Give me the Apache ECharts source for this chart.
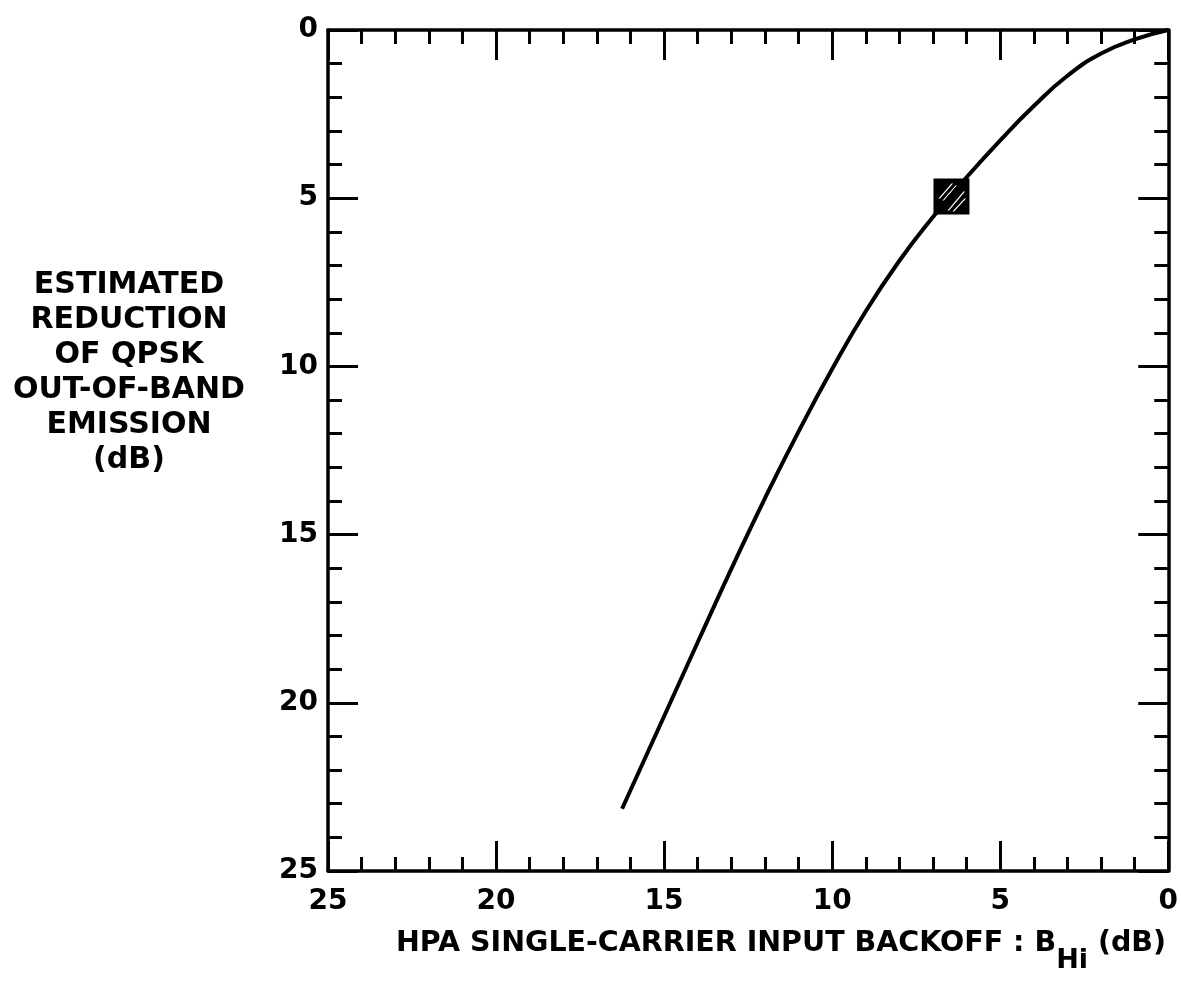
<!DOCTYPE html>
<html>
<head>
<meta charset="utf-8">
<script src="https://cdn.jsdelivr.net/npm/echarts@6/dist/echarts.min.js"></script>
<style>
html,body{margin:0;padding:0;background:#fff;}
#chart{width:1181px;height:984px;}
</style>
</head>
<body>
<div id="chart"></div>
<script>
// HPA single-carrier input backoff (dB)
const backoff = [0, 1, 2, 3, 4, 5, 6, 7, 8, 9, 10, 11, 12, 13, 14, 15, 16, 16.25];
// Estimated reduction of QPSK out-of-band emission (dB)
const reduction = [0, 0.28, 0.70, 1.36, 2.26, 3.28, 4.38, 5.56, 6.86, 8.36, 10.08, 11.94, 13.92, 16.02, 18.20, 20.40, 22.60, 23.15];
// Operating point marker
const operatingPoint = [6.45, 4.95];
const tickLabels = ['0', '5', '10', '15', '20', '25'];
const yTitleLines = ['ESTIMATED', 'REDUCTION', 'OF QPSK', 'OUT-OF-BAND', 'EMISSION', '(dB)'];
const xTitleMain = 'HPA SINGLE-CARRIER INPUT BACKOFF : B';
const xTitleSub = 'Hi';
const xTitleUnit = ' (dB)';

const FONT = 'DejaVu Sans';
const curveData = backoff.map((x, i) => [x, reduction[i]]);

// square with hatch slashes cut out (opposite winding)
const hatchSymbol = 'path://M0,0 L36,0 L36,36 L0,36 Z ' +
  'M5,20 L6.6,20 L19.6,5 L18,5 Z ' +
  'M9,22 L10.6,22 L23.6,7 L22,7 Z ' +
  'M14,32 L15.6,32 L31.6,13 L30,13 Z ' +
  'M19,33 L20.6,33 L32.6,20 L31,20 Z';

const axisCommon = {
  type: 'value', min: 0, max: 25, interval: 5, inverse: true,
  axisLine: { show: true, onZero: false, lineStyle: { color: '#000', width: 3.5 } },
  axisTick: { show: true, inside: true, length: 30, lineStyle: { color: '#000', width: 3 } },
  minorTick: { show: true, splitNumber: 5, length: 14, lineStyle: { color: '#000', width: 3 } },
  splitLine: { show: false },
  minorSplitLine: { show: false }
};
const labelStyle = { color: '#000', fontFamily: FONT, fontWeight: 'bold', fontSize: 28,
  formatter: v => tickLabels[Math.round(v / 5)] };

const chart = echarts.init(document.getElementById('chart'), null, { renderer: 'canvas' });
chart.setOption({
  backgroundColor: '#fff',
  animation: false,
  grid: { left: 328, right: 11, top: 30, bottom: 113, containLabel: false },
  xAxis: [
    Object.assign({}, axisCommon, { position: 'bottom', axisLabel: Object.assign({ margin: 17 }, labelStyle) }),
    Object.assign({}, axisCommon, { position: 'top', axisLabel: { show: false } })
  ],
  yAxis: [
    Object.assign({}, axisCommon, { position: 'left', axisLabel: Object.assign({ margin: 10, padding: [0, 0, 10, 0] }, labelStyle) }),
    Object.assign({}, axisCommon, { position: 'right', axisLabel: { show: false } })
  ],
  graphic: [
    {
      type: 'text', x: 129, y: 268,
      style: {
        text: yTitleLines.join('\n'), textAlign: 'center', textVerticalAlign: 'top',
        font: 'bold 30px "' + FONT + '"', lineHeight: 35, fill: '#000'
      }
    },
    {
      type: 'text', x: 781, y: 944,
      style: {
        text: xTitleMain + '{sub|' + xTitleSub + '}' + xTitleUnit,
        textAlign: 'center', textVerticalAlign: 'middle',
        fontFamily: FONT, fontWeight: 'bold', fontSize: 28.5, fill: '#000',
        rich: { sub: { fontFamily: FONT, fontWeight: 'bold', fontSize: 27, fill: '#000', padding: [34, 0, 0, 0] } }
      }
    }
  ],
  series: [
    {
      type: 'line', xAxisIndex: 0, yAxisIndex: 0, data: curveData,
      smooth: 0.5, showSymbol: false,
      lineStyle: { color: '#000', width: 4 }, z: 3
    },
    {
      type: 'scatter', xAxisIndex: 0, yAxisIndex: 0, data: [operatingPoint],
      symbol: hatchSymbol, symbolSize: 36,
      itemStyle: { color: '#000', opacity: 1 }, z: 4
    }
  ]
});
</script>
</body>
</html>
